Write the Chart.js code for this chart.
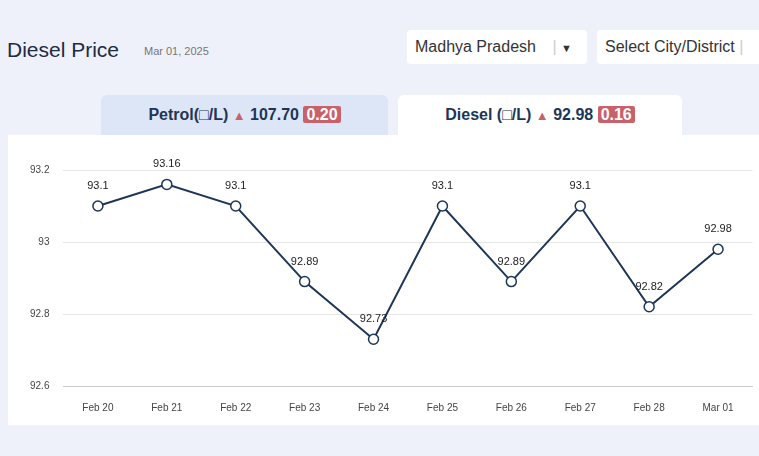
<!DOCTYPE html>
<html>
<head>
<meta charset="utf-8">
<script src="https://cdn.jsdelivr.net/npm/chart.js@4"></script>
<style>
  body { margin:0; width:759px; height:456px; background:#eef1f9; font-family:Arial, "Liberation Sans", sans-serif; overflow:hidden; position:relative; }
  .title { position:absolute; left:7px; top:38px; font-size:21px; color:#1d2b45; }
  .date { position:absolute; left:144px; top:45px; font-size:11px; color:#777; }
  .sel { position:absolute; top:30px; height:34px; background:#fff; border-radius:4px; font-size:16px; color:#333; line-height:34px; padding-left:8px; box-sizing:border-box; }
  .tab { position:absolute; top:95px; height:42px; border-radius:6px 6px 0 0; font-size:16px; font-weight:bold; color:#1d3557; text-align:center; line-height:40px; }
  .tri { color:#c9606a; font-size:13px; }
  .chg { background:#c9606a; color:#fff; padding:0 3px; border-radius:2px; }
  .panel { position:absolute; left:8px; top:135px; width:751px; height:290px; background:#fff; }
</style>
</head>
<body>
<div class="title">Diesel Price</div>
<div class="date">Mar 01, 2025</div>
<div class="sel" style="left:407px;width:180px;">Madhya Pradesh <span style="color:#ccc;margin-left:12px">|</span> <span style="font-size:11px">&#9660;</span></div>
<div class="sel" style="left:597px;width:170px;">Select City/District <span style="color:#ccc">|</span></div>
<div class="tab" style="left:101px;width:287px;background:#dde6f7;">Petrol(□/L) <span class="tri">&#9650;</span> 107.70 <span class="chg">0.20</span></div>
<div class="tab" style="left:398px;width:284px;background:#fff;">Diesel (□/L) <span class="tri">&#9650;</span> 92.98 <span class="chg">0.16</span></div>
<div class="panel"><canvas id="c" width="751" height="290"></canvas></div>
<script>
const dates  = ['Feb 20','Feb 21','Feb 22','Feb 23','Feb 24','Feb 25','Feb 26','Feb 27','Feb 28','Mar 01'];
const prices = [93.1, 93.16, 93.1, 92.89, 92.73, 93.1, 92.89, 93.1, 92.82, 92.98];
const yTicks = [92.6, 92.8, 93, 93.2];

const valueLabels = {
  id: 'valueLabels',
  afterDatasetsDraw(chart) {
    const ctx = chart.ctx;
    const meta = chart.getDatasetMeta(0);
    ctx.save();
    ctx.font = '11px Arial';
    ctx.fillStyle = '#222';
    ctx.textAlign = 'center';
    meta.data.forEach((pt, i) => ctx.fillText(String(prices[i]), pt.x, pt.y - 17));
    ctx.restore();
  }
};

new Chart(document.getElementById('c'), {
  type: 'line',
  data: {
    labels: dates,
    datasets: [{
      data: prices,
      borderColor: '#1d3557',
      borderWidth: 2,
      tension: 0,
      pointRadius: 5,
      pointBackgroundColor: '#fff',
      pointBorderColor: '#1d3557',
      pointBorderWidth: 1.5
    }]
  },
  options: {
    responsive: false,
    animation: false,
    layout: { padding: { left: 8, right: 0, top: 35, bottom: 3 } },
    plugins: { legend: { display: false }, tooltip: { enabled: false } },
    scales: {
      x: {
        offset: true,
        grid: { display: false },
        border: { color: '#ccc' },
        ticks: { color: '#444', font: { size: 10 }, padding: 8 }
      },
      y: {
        min: 92.6, max: 93.2,
        afterBuildTicks: s => { s.ticks = yTicks.map(v => ({ value: v })); },
        grid: { color: '#e6e6e6', drawTicks: false },
        border: { display: false },
        ticks: { color: '#444', font: { size: 10 }, padding: 14, callback: v => String(Math.round(v * 10) / 10) }
      }
    }
  },
  plugins: [valueLabels]
});
</script>
</body>
</html>
